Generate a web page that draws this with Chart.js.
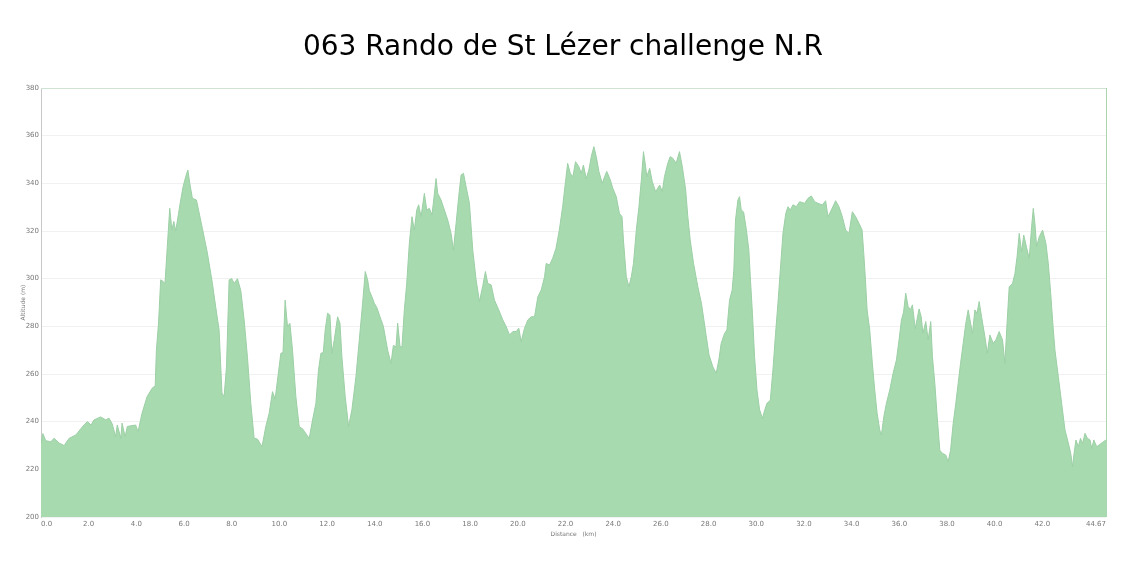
<!DOCTYPE html>
<html>
<head>
<meta charset="utf-8">
<script src="https://cdn.jsdelivr.net/npm/chart.js@4.4.0/dist/chart.umd.min.js"></script>
<style>
html,body{margin:0;padding:0;background:#fff;}
#wrap{width:1137px;height:568px;position:relative;}
</style>
</head>
<body>
<div id="wrap"><canvas id="c"></canvas></div>
<script>
const chartTitle = "063 Rando de St Lézer challenge N.R";
const xAxisTitle = "Distance   (km)";
const yAxisTitle = "Altitude (m)";

const dist = [0,0.08,0.2,0.41,0.55,0.76,0.97,1.18,1.46,1.8,1.95,2.1,2.22,2.5,2.72,2.85,2.99,3.13,3.2,3.35,3.4,3.53,3.62,3.97,4.07,4.24,4.45,4.66,4.79,4.84,4.93,5.02,5.1,5.2,5.28,5.4,5.49,5.57,5.65,5.77,5.86,5.96,6.07,6.16,6.24,6.35,6.52,6.77,6.98,7.19,7.33,7.47,7.59,7.68,7.78,7.89,8.0,8.1,8.24,8.38,8.52,8.66,8.8,8.94,9.08,9.27,9.43,9.57,9.71,9.82,9.92,10.06,10.15,10.24,10.34,10.44,10.55,10.69,10.83,10.97,11.11,11.25,11.39,11.53,11.64,11.74,11.84,11.92,12.02,12.12,12.2,12.3,12.44,12.54,12.62,12.76,12.9,13.04,13.21,13.35,13.49,13.6,13.7,13.77,13.88,13.98,14.08,14.22,14.36,14.54,14.68,14.78,14.89,14.96,15.06,15.14,15.24,15.34,15.45,15.56,15.66,15.76,15.84,15.94,16.08,16.18,16.29,16.4,16.57,16.64,16.78,16.92,17.06,17.2,17.3,17.41,17.52,17.62,17.72,17.83,17.97,18.11,18.25,18.39,18.53,18.64,18.74,18.88,19.02,19.2,19.37,19.51,19.65,19.79,19.93,20.04,20.14,20.28,20.42,20.56,20.7,20.84,20.98,21.12,21.19,21.33,21.46,21.6,21.74,21.88,22.0,22.09,22.2,22.31,22.42,22.56,22.66,22.75,22.87,22.98,23.08,23.19,23.29,23.4,23.54,23.64,23.73,23.88,23.98,24.13,24.26,24.37,24.43,24.55,24.66,24.76,24.85,24.97,25.08,25.18,25.27,25.36,25.41,25.53,25.64,25.78,25.95,26.06,26.15,26.29,26.39,26.5,26.64,26.78,26.9,27.04,27.13,27.23,27.37,27.55,27.7,27.8,27.9,28.02,28.18,28.32,28.43,28.53,28.67,28.77,28.88,28.99,29.06,29.13,29.23,29.3,29.37,29.47,29.58,29.69,29.75,29.84,29.93,30.03,30.14,30.26,30.36,30.45,30.59,30.7,30.81,30.91,31.01,31.12,31.24,31.33,31.43,31.54,31.68,31.82,32.03,32.17,32.31,32.45,32.59,32.77,32.91,33.01,33.15,33.33,33.47,33.61,33.75,33.89,34.03,34.17,34.31,34.44,34.51,34.58,34.65,34.76,34.87,34.97,35.07,35.18,35.25,35.35,35.46,35.6,35.74,35.88,35.99,36.09,36.18,36.27,36.37,36.47,36.55,36.67,36.83,36.92,36.99,37.11,37.21,37.32,37.39,37.49,37.59,37.7,37.81,37.95,38.05,38.15,38.26,38.37,38.47,38.57,38.68,38.79,38.89,38.99,39.07,39.17,39.26,39.35,39.45,39.59,39.69,39.8,39.94,40.05,40.19,40.33,40.43,40.52,40.61,40.75,40.85,40.94,41.03,41.13,41.22,41.34,41.45,41.55,41.62,41.69,41.76,41.87,42.01,42.15,42.25,42.35,42.46,42.53,42.67,42.81,42.95,43.09,43.19,43.27,43.33,43.41,43.51,43.6,43.69,43.79,43.89,44.0,44.07,44.16,44.28,44.42,44.56,44.67];

const alt = [231,235,232,231.6,233,231,230,233,234.4,238.6,240,238.6,240.7,242,240.7,241.5,239,233.7,238.6,233,239.4,233.7,238,238.6,235.8,243.6,250.5,254,255,270,281.4,299.5,299,298,310.7,329.5,320.4,324,320,327.4,333,338.6,342.8,345.6,340,333.7,333,321,310.7,298,288,278.5,252,250.5,263,299.5,300,298,300,295,282.7,267,247.7,233,232.7,229.5,238,243.5,252.6,249.5,257.5,268.7,269,291,279.9,281.3,270,250.5,237.9,237,235,233,240.7,247.7,261.7,268.7,269,278.5,285.5,284.7,268.7,274.3,284,281.3,267.3,250.5,238,245,258.9,274.3,289.7,303,299.5,295,292.4,289.7,288,284,280,270,264.5,272,271.4,281.3,271.4,271.4,287,298,314.9,326,320.4,328.8,331,326,335.8,328.8,329.5,326.7,342,335.8,333,328.8,324.6,319,312,323.2,334.4,343.5,344.2,338.6,331.6,312,299.5,290.4,297,303,298,297.4,291,286.9,282.7,279.9,276.4,277.8,277.8,279.2,273.6,279.2,282.7,284,284,292.4,295.2,300.8,306.4,305.7,308.5,312.7,320.4,330.2,340.7,348.4,344.2,342.8,349.1,347,344.2,347.7,342,345.6,351.2,355.4,351.2,345,340,342.8,345,341.4,338,334.4,327.4,326,316.2,300.8,296.6,300.8,306.4,320.4,330.2,341.4,353.3,347,342.8,346.3,340.7,336.5,339.3,336.5,342.8,348.4,351.2,350.5,348.4,353.3,347,337.2,326,316.2,306.4,296.6,289.7,283,276,268,263,260.3,265.9,272.9,277,278.5,291,295.2,303.6,324.6,333,334.4,328.8,328,321,312,300.8,285.4,267.3,253.3,245,241.4,245,247.7,249,261.7,277,289.7,303.6,319,327.4,330.2,328.8,331,330.2,332.3,331.6,333.7,334.7,332.3,331.6,330.9,332.7,326,328.8,332.7,330.2,326,320.4,319,328.1,326,323.2,320.4,310.6,299.5,286.9,278.5,264.5,253.3,243.5,236.5,234.4,242,247.7,253.3,260.3,265.9,274.3,282.7,286,293.9,288.3,287,289,279,287.3,284,277,282,274.3,282,267.3,256.1,242,228,226.7,226,223.2,228,239.3,247.7,256.1,264.5,272.9,281.3,286.9,281.3,277,286.9,285.5,290.4,284,275.7,268.7,276.4,272.9,274.3,277.8,274.3,264.5,281.3,296.6,298,302.2,309.2,319,311.3,318.3,313,308.5,321.8,329.5,323,313.4,317.6,320.4,314.8,306.4,293.9,278.5,270,258.9,247.7,236.5,231,226.7,221.1,226.7,232.3,229.5,233,230.9,235.1,233,232.3,228.8,232.3,229.5,230.5,231.6,232.3];

const xTickValues = [0,2,4,6,8,10,12,14,16,18,20,22,24,26,28,30,32,34,36,38,40,42,44.67];
const xTickLabels = ["0.0","2.0","4.0","6.0","8.0","10.0","12.0","14.0","16.0","18.0","20.0","22.0","24.0","26.0","28.0","30.0","32.0","34.0","36.0","38.0","40.0","42.0","44.67"];
const yMin = 200, yMax = 380, yStep = 20;

const points = dist.map((d, i) => ({x: d, y: alt[i]}));

const frameLines = {
  id: 'frameLines',
  afterDatasetsDraw(chart) {
    const a = chart.chartArea, ctx = chart.ctx;
    ctx.save();
    ctx.lineWidth = 1;
    ctx.strokeStyle = '#cfe3d2';
    ctx.beginPath();
    ctx.moveTo(a.left, a.top + 0.5);
    ctx.lineTo(a.right, a.top + 0.5);
    ctx.stroke();
    ctx.strokeStyle = '#a9d6b0';
    ctx.beginPath();
    ctx.moveTo(a.right + 0.5, a.top);
    ctx.lineTo(a.right + 0.5, a.bottom);
    ctx.stroke();
    ctx.restore();
  }
};

Chart.defaults.font.family = "'DejaVu Sans', sans-serif";
Chart.defaults.color = '#666';

new Chart(document.getElementById('c'), {
  type: 'line',
  data: {
    datasets: [{
      data: points,
      fill: 'start',
      backgroundColor: '#a8dab0',
      borderColor: '#9ccfa5',
      borderWidth: 1,
      pointRadius: 0,
      tension: 0
    }]
  },
  options: {
    responsive: true,
    maintainAspectRatio: false,
    animation: false,
    layout: { padding: { left: 20, right: 31, top: 0, bottom: 30 } },
    plugins: {
      legend: { display: false },
      tooltip: { enabled: false },
      title: {
        display: true,
        text: chartTitle,
        color: '#000',
        font: { size: 28, weight: 'normal', family: "'DejaVu Sans', sans-serif" },
        padding: { top: 31, bottom: 23.4 }
      }
    },
    scales: {
      x: {
        type: 'linear',
        min: 0,
        max: 44.67,
        afterBuildTicks: (s) => { s.ticks = xTickValues.map(v => ({value: v})); },
        afterFit: (s) => { s.height = 21; },
        grid: { display: false, drawTicks: false },
        border: { display: false },
        ticks: {
          autoSkip: false,
          maxRotation: 0,
          align: 'inner',
          padding: 3,
          font: { size: 7 },
          color: '#777',
          callback: (v, i) => xTickLabels[i]
        },
        title: {
          display: true,
          text: xAxisTitle,
          font: { size: 6 },
          color: '#777',
          padding: { top: 0, bottom: 0 }
        }
      },
      y: {
        min: yMin,
        max: yMax,
        afterFit: (s) => { s.width = 21; },
        ticks: {
          stepSize: yStep,
          padding: 2,
          font: { size: 7 },
          color: '#777'
        },
        grid: { color: '#f1f1f1', drawTicks: false },
        border: { color: '#c8c8c8' },
        title: {
          display: true,
          text: yAxisTitle,
          font: { size: 6 },
          color: '#777',
          padding: { top: 0, bottom: 0 }
        }
      }
    }
  },
  plugins: [frameLines]
});
</script>
</body>
</html>
